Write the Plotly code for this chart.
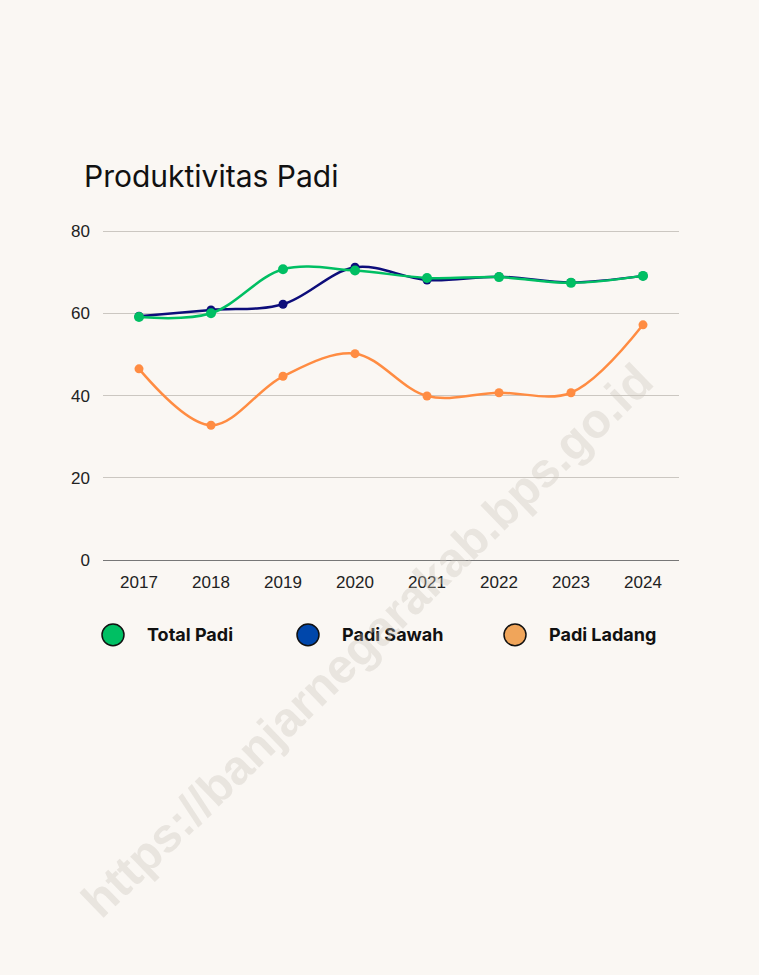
import plotly.graph_objects as go

years = ["2017", "2018", "2019", "2020", "2021", "2022", "2023", "2024"]
total_padi = [59.1, 60.0, 70.7, 70.4, 68.6, 68.8, 67.4, 69.1]
padi_sawah = [59.3, 60.8, 62.2, 71.2, 68.1, 68.9, 67.5, 69.1]
padi_ladang = [46.5, 32.8, 44.7, 50.2, 39.9, 40.7, 40.7, 57.2]
y_ticks = [0, 20, 40, 60, 80]

series_names = ["Total Padi", "Padi Sawah", "Padi Ladang"]
line_colors = ["#00BF63", "#0D0D7A", "#FF8C42"]
legend_colors = ["#00BF63", "#0047AB", "#F0A55A"]

W, H = 759, 975
x0, x1 = 103, 679
y_top_val = 80.6
px_per_unit = 4.1875
yb = 563
yt = yb - y_top_val * px_per_unit

fig = go.Figure()
for name, vals, col, ms in [
    ("Padi Ladang", padi_ladang, line_colors[2], 9),
    ("Padi Sawah", padi_sawah, line_colors[1], 9),
    ("Total Padi", total_padi, line_colors[0], 10),
]:
    fig.add_trace(go.Scatter(
        x=years, y=vals, name=name, mode="lines+markers",
        line=dict(color=col, width=2.5, shape="spline", smoothing=1),
        marker=dict(color=col, size=ms), showlegend=False,
        hoverinfo="skip",
    ))

leg_py = 639
leg_y = 1 - leg_py / H
leg_cx = [113, 308, 515]
leg_tx = [145, 340, 547]
shapes = []
annotations = []
for name, col, cx, tx in zip(series_names, legend_colors, leg_cx, leg_tx):
    r = 11
    shapes.append(dict(type="circle", xref="paper", yref="paper",
                       x0=(cx - r) / W, x1=(cx + r) / W,
                       y0=1 - (leg_py + r) / H, y1=1 - (leg_py - r) / H,
                       fillcolor=col, line=dict(color="#111111", width=1.5)))
    annotations.append(dict(text="<b>" + name + "</b>", xref="paper", yref="paper",
                            x=tx / W, y=leg_y, xanchor="left", yanchor="middle",
                            showarrow=False,
                            font=dict(family="Inter, Liberation Sans, Arial", size=18, color="#111111")))

annotations.append(dict(text="<b>https://banjarnegarakab.bps.go.id</b>",
                        xref="paper", yref="paper", x=367 / W, y=1 - 645 / H,
                        showarrow=False, textangle=-44,
                        font=dict(family="Liberation Sans, Arial", size=48, color="rgba(200,194,186,0.35)")))

annotations.append(dict(text="Produktivitas Padi", xref="paper", yref="paper",
                        x=82 / W, y=1 - 172 / H, xanchor="left", yanchor="middle",
                        showarrow=False,
                        font=dict(family="Inter, Liberation Sans, Arial", size=30, color="#111111")))

fig.update_layout(
    width=W, height=H,
    margin=dict(l=0, r=0, t=0, b=0),
    paper_bgcolor="#FAF7F3", plot_bgcolor="#FAF7F3",
    shapes=shapes, annotations=annotations,
    showlegend=False,
    xaxis=dict(domain=[x0 / W, x1 / W], type="category", range=[-0.5, 7.5],
               showgrid=False, showline=True, linecolor="#777777", linewidth=1,
               ticks="", ticklabelstandoff=6,
               tickfont=dict(family="Liberation Sans, Arial", size=17, color="#222222")),
    yaxis=dict(domain=[1 - yb / H, 1 - yt / H], range=[0, y_top_val],
               tickvals=y_ticks, showgrid=True, gridcolor="#CBC7C1", gridwidth=1,
               zeroline=False, showline=False, ticks="", ticklabelstandoff=12,
               tickfont=dict(family="Liberation Sans, Arial", size=17, color="#222222")),
)

post = (
    "document.documentElement.style.cssText='margin:0;padding:0;overflow:hidden;background:#FAF7F3;';"
    "document.body.style.cssText='margin:0;padding:0;overflow:hidden;background:#FAF7F3;';"
    "var gd=document.getElementById('{plot_id}');"
    "gd.style.position='fixed';gd.style.top='0px';gd.style.left='0px';"
)

fig.write_html("out.html", config={"displayModeBar": False}, post_script=post)
